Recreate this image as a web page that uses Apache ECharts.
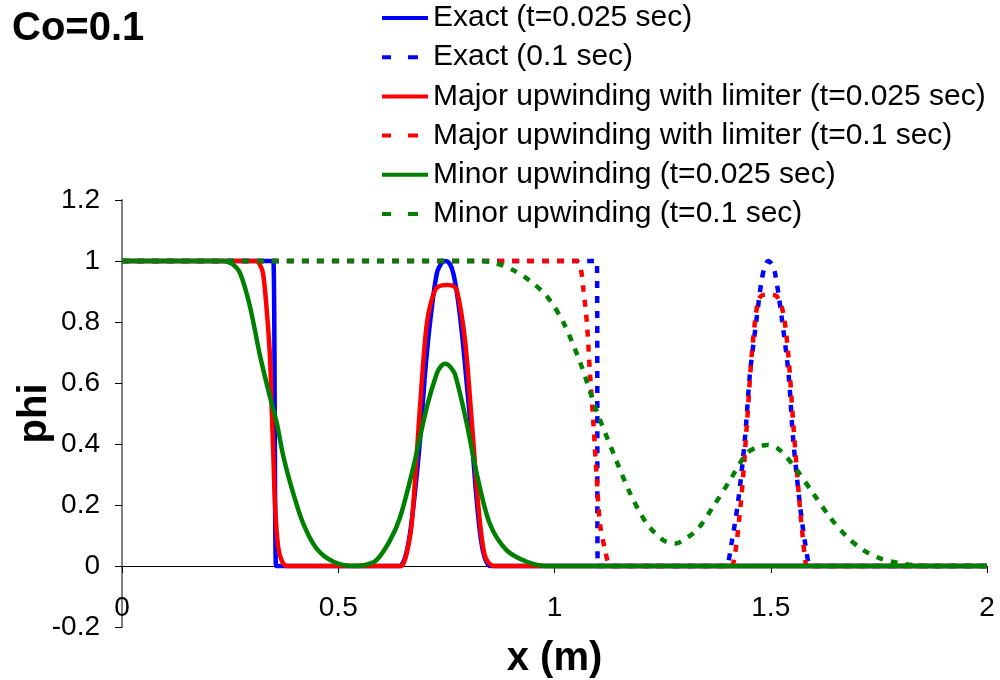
<!DOCTYPE html>
<html>
<head>
<meta charset="utf-8">
<script src="https://cdn.jsdelivr.net/npm/echarts@6/dist/echarts.min.js"></script>
<style>html,body{margin:0;padding:0;background:#fff}#c{width:1000px;height:680px}</style>
</head>
<body>
<div id="c"></div>
<script>
// ---- data (x in m, phi) ----
const seriesNames = [
  'Exact (t=0.025 sec)',
  'Exact (0.1 sec)',
  'Major upwinding with limiter (t=0.025 sec)',
  'Major upwinding with limiter (t=0.1 sec)',
  'Minor upwinding (t=0.025 sec)',
  'Minor upwinding (t=0.1 sec)'
];
const xTicks = [0, 0.5, 1, 1.5, 2];
const yTicks = [-0.2, 0, 0.2, 0.4, 0.6, 0.8, 1, 1.2];

const exact025 = [[0,1],[0.345,1],[0.35,1],[0.356,0],[0.36,0],[0.64,0],[0.643,0],[0.655,0.03],[0.666,0.107],[0.678,0.25],[0.689,0.413],[0.70,0.62],[0.712,0.796],[0.728,0.96],[0.74,0.995],[0.748,1.0],[0.758,0.99],[0.766,0.96],[0.776,0.88],[0.786,0.763],[0.797,0.6],[0.809,0.413],[0.818,0.25],[0.828,0.107],[0.838,0.03],[0.851,0],[0.855,0],[2,0]];
const exact01 = [[0,1],[1.094,1],[1.098,1],[1.10,0],[1.104,0],[1.395,0],[1.398,0],[1.41,0.08],[1.425,0.216],[1.44,0.413],[1.452,0.632],[1.466,0.796],[1.479,0.938],[1.487,0.985],[1.494,1.0],[1.502,0.99],[1.51,0.96],[1.525,0.818],[1.541,0.632],[1.552,0.413],[1.568,0.195],[1.58,0.07],[1.591,0],[1.595,0],[2,0]];
const major025 = [[0,1],[0.305,1],[0.31,1],[0.318,0.99],[0.326,0.96],[0.334,0.85],[0.342,0.69],[0.346,0.52],[0.35,0.36],[0.354,0.195],[0.361,0.063],[0.37,0.015],[0.381,0],[0.385,0],[0.643,0],[0.647,0],[0.658,0.04],[0.67,0.14],[0.689,0.52],[0.705,0.796],[0.724,0.905],[0.74,0.92],[0.751,0.921],[0.762,0.92],[0.774,0.905],[0.793,0.741],[0.809,0.468],[0.824,0.195],[0.835,0.06],[0.843,0.02],[0.859,0],[0.863,0],[2,0]];
const major01 = [[0,1],[1.047,1],[1.051,1],[1.06,0.98],[1.067,0.905],[1.075,0.796],[1.082,0.632],[1.09,0.468],[1.097,0.304],[1.105,0.14],[1.117,0.052],[1.128,0],[1.132,0],[1.406,0],[1.41,0],[1.43,0.195],[1.445,0.468],[1.457,0.708],[1.471,0.872],[1.483,0.889],[1.5,0.89],[1.514,0.884],[1.529,0.829],[1.541,0.686],[1.552,0.468],[1.564,0.249],[1.575,0.08],[1.583,0],[1.587,0],[2,0]];
const minor025 = [[0,1],[0.228,1],[0.234,1],[0.255,0.99],[0.273,0.96],[0.296,0.85],[0.319,0.69],[0.342,0.555],[0.358,0.468],[0.373,0.36],[0.396,0.238],[0.419,0.139],[0.45,0.057],[0.489,0.014],[0.535,0],[0.565,0.004],[0.589,0.02],[0.62,0.085],[0.643,0.16],[0.674,0.326],[0.705,0.522],[0.728,0.632],[0.738,0.656],[0.747,0.663],[0.757,0.656],[0.77,0.628],[0.797,0.468],[0.82,0.304],[0.85,0.14],[0.889,0.052],[0.936,0.014],[0.982,0],[0.99,0],[2,0]];
const minor01 = [[0,1],[0.82,1],[0.828,1],[0.866,0.992],[0.905,0.97],[0.943,0.935],[0.982,0.885],[1.02,0.80],[1.06,0.665],[1.097,0.51],[1.136,0.37],[1.175,0.238],[1.213,0.14],[1.251,0.085],[1.279,0.074],[1.29,0.078],[1.329,0.118],[1.367,0.195],[1.406,0.282],[1.445,0.37],[1.47,0.39],[1.492,0.397],[1.521,0.38],[1.56,0.315],[1.598,0.238],[1.637,0.16],[1.676,0.096],[1.714,0.052],[1.753,0.025],[1.791,0.011],[1.83,0.003],[1.87,0],[1.88,0],[2,0]];

const seriesData = [exact025, exact01, major025, major01, minor025, minor01];
const seriesColors = ['#0000FF', '#0000FF', '#FF0000', '#FF0000', '#008000', '#008000'];
const seriesDashed = [false, true, false, true, false, true];

const FONT = "'Liberation Sans', Arial, Helvetica, sans-serif";
const chart = echarts.init(document.getElementById('c'), null, {renderer: 'canvas'});

const series = seriesNames.map((n, i) => ({
  name: n,
  type: 'line',
  data: seriesData[i],
  symbol: 'none',
  showSymbol: false,
  smooth: 0.3,
  color: seriesColors[i],
  lineStyle: {color: seriesColors[i], width: 4.5, type: seriesDashed[i] ? [7, 8] : 'solid', cap: 'butt'},
  z: 2 + i,
  animation: false
}));

const SOLID_ICON = 'path://M0,0h46v4h-46z';
const DASH_ICON = 'path://M0,0h9v4h-9zM26,0h10v4h-10zM46,0v4z';

chart.setOption({
  animation: false,
  backgroundColor: '#fff',
  title: {
    text: 'Co=0.1', left: 7, top: 4,
    textStyle: {fontFamily: FONT, fontSize: 40, fontWeight: 'bold', color: '#000', lineHeight: 40}
  },
  legend: {
    orient: 'vertical', left: 377, top: -2,
    itemWidth: 46, itemHeight: 4.5, itemGap: 9.2,
    textStyle: {fontFamily: FONT, fontSize: 30, lineHeight: 30, color: '#000'},
    data: seriesNames.map((n, i) => ({name: n, icon: seriesDashed[i] ? DASH_ICON : SOLID_ICON}))
  },
  grid: {left: 122, right: 13, top: 200, bottom: 53, containLabel: false, outerBoundsMode: 'none'},
  xAxis: {
    type: 'value', min: xTicks[0], max: xTicks[xTicks.length - 1], interval: 0.5,
    name: 'x (m)', nameLocation: 'middle', nameGap: 12,
    nameTextStyle: {fontFamily: FONT, fontSize: 40, fontWeight: 'bold', color: '#000'},
    axisLine: {onZero: true, lineStyle: {color: '#000', width: 1}},
    axisTick: {show: true, length: 7, lineStyle: {color: '#000', width: 1}},
    axisLabel: {margin: -33, fontFamily: FONT, fontSize: 28, lineHeight: 28, color: '#000',
      formatter: v => String(v)},
    splitLine: {show: false}
  },
  yAxis: {
    type: 'value', min: yTicks[0], max: yTicks[yTicks.length - 1], interval: 0.2,
    name: 'phi', nameLocation: 'middle', nameGap: 67, nameRotate: 90, nameMoveOverlap: false,
    nameTextStyle: {fontFamily: FONT, fontSize: 40, fontWeight: 'bold', color: '#000'},
    axisLine: {show: true, onZero: false, lineStyle: {color: '#808080', width: 2}},
    axisTick: {show: true, length: 7, lineStyle: {color: '#000', width: 1}},
    axisLabel: {margin: 22, fontFamily: FONT, fontSize: 28, color: '#000',
      formatter: v => String(Math.round(v * 10) / 10)},
    splitLine: {show: false}
  },
  series: series
});
</script>
</body>
</html>
